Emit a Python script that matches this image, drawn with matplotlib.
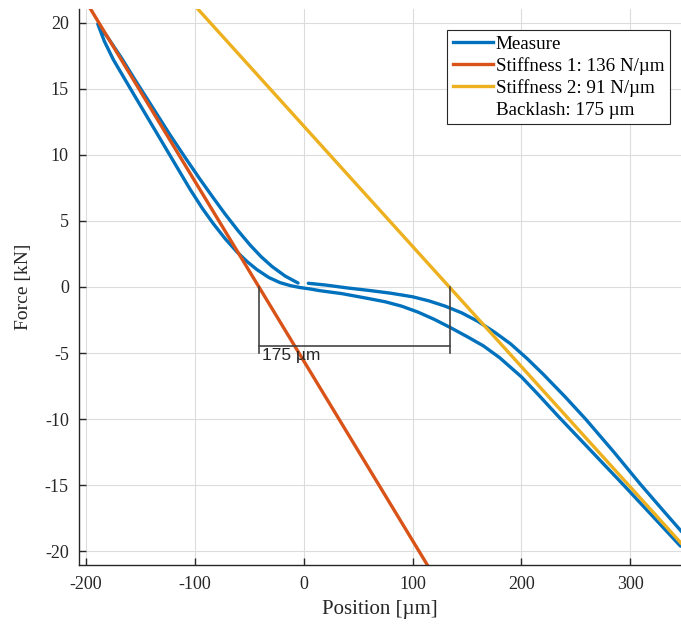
import matplotlib
matplotlib.use('Agg')
import matplotlib.pyplot as plt
from matplotlib.lines import Line2D

# Measured loop (Position in um, Force in kN), read off the picture
# start near zero -> upper right branch -> back along lower side -> up the left -> down again
meas_x = [4.3, 20, 40, 60, 80, 100, 115, 130, 145, 160, 175, 190, 205, 220, 240, 259, 285, 309, 330, 347, 360,
          346, 320, 294, 264, 234, 215, 200, 180, 165, 150, 135, 120, 105, 90, 75, 58, 35, 15, 6,
          -3.3, -12, -21.7, -32, -43.1, -52, -61.4, -72, -83, -93, -104.3, -123, -141, -159, -174.7, -183, -189,
          -180, -167, -154.7, -138, -122.6, -108, -95.1, -83, -72.2, -60, -49.2, -39, -29, -17, -5.1]
meas_f = [0.28, 0.15, -0.07, -0.26, -0.47, -0.74, -1.05, -1.45, -1.95, -2.6, -3.4, -4.3, -5.4, -6.6, -8.3, -10.0, -12.5, -14.9, -16.9, -18.5, -19.75,
          -19.6, -17.3, -15.0, -12.4, -9.8, -8.1, -6.8, -5.35, -4.45, -3.75, -3.08, -2.45, -1.9, -1.45, -1.12, -0.85, -0.5, -0.28, -0.15,
          -0.04, 0.1, 0.33, 0.72, 1.33, 1.93, 2.67, 3.65, 4.8, 5.95, 7.4, 10.0, 12.5, 15.0, 17.2, 18.6, 19.9,
          18.9, 17.3, 15.66, 13.5, 11.5, 9.7, 8.15, 6.75, 5.53, 4.24, 3.18, 2.29, 1.55, 0.83, 0.3]

# fitted stiffness lines (end points)
stiff1_x = [-195.4, 113.4]
stiff1_f = [21, -21]
stiff2_x = [-96.8, 360]
stiff2_f = [21, -20.6]

# backlash bracket
backlash_x = [-41, 134]
backlash_lbl = '175 µm'

labels = ['Measure', 'Stiffness 1: 136 N/µm', 'Stiffness 2: 91 N/µm', 'Backlash: 175 µm']

c_blue = '#0072BD'
c_orange = '#D95319'
c_yellow = '#EDB120'
c_dark = '#262626'

plt.rcParams['font.family'] = ['Liberation Serif', 'DejaVu Serif']
plt.rcParams['axes.unicode_minus'] = False

fig = plt.figure(figsize=(6.81, 6.26), dpi=100)
ax = fig.add_axes([0.1154, 0.0981, 0.8846, 0.8869])

ax.plot(meas_x, meas_f, color=c_blue, lw=2.4, solid_capstyle='round', solid_joinstyle='round')
ax.plot(stiff1_x, stiff1_f, color=c_orange, lw=2.4)
ax.plot(stiff2_x, stiff2_f, color=c_yellow, lw=2.4)

# bracket showing the backlash
ax.plot([backlash_x[0], backlash_x[0]], [0, -5], color='#444444', lw=1.2)
ax.plot([backlash_x[1], backlash_x[1]], [0, -5], color='#444444', lw=1.2)
ax.plot(backlash_x, [-4.5, -4.5], color='#444444', lw=1.2)
ax.text(backlash_x[0] + 2.5, -4.6, backlash_lbl, family='Liberation Sans', fontsize=12.5,
        color=c_dark, ha='left', va='top')

ax.set_xlim(-206.6, 346.5)
ax.set_ylim(-21, 21)
ax.set_xticks([-200, -100, 0, 100, 200, 300])
ax.set_yticks(range(-20, 21, 5))
ax.grid(True, color='#dcdcdc', lw=0.8)
ax.set_axisbelow(True)
for s in ['top', 'right']:
    ax.spines[s].set_visible(False)
for s in ['left', 'bottom']:
    ax.spines[s].set_color(c_dark)
    ax.spines[s].set_linewidth(1.0)
ax.tick_params(direction='in', length=5, colors=c_dark, labelsize=13, width=1.0)
ax.tick_params(axis='x', pad=8.5)
ax.tick_params(axis='y', pad=7)
ax.set_xlabel('Position [µm]', fontsize=15, color=c_dark, labelpad=5)
ax.set_ylabel('Force [kN]', fontsize=14, color=c_dark, labelpad=9)

handles = [Line2D([], [], color=c_blue, lw=2.4),
           Line2D([], [], color=c_orange, lw=2.4),
           Line2D([], [], color=c_yellow, lw=2.4),
           Line2D([], [], color='none')]
leg = ax.legend(handles, labels, loc='upper right', bbox_to_anchor=(0.9817, 0.963),
                fontsize=13.7, frameon=True, fancybox=False, framealpha=1,
                edgecolor=c_dark, handlelength=2.1, handletextpad=0.15,
                labelspacing=0.22, borderpad=0.3, borderaxespad=0)
leg.get_frame().set_linewidth(0.8)

fig.savefig('out.png', dpi=100)
